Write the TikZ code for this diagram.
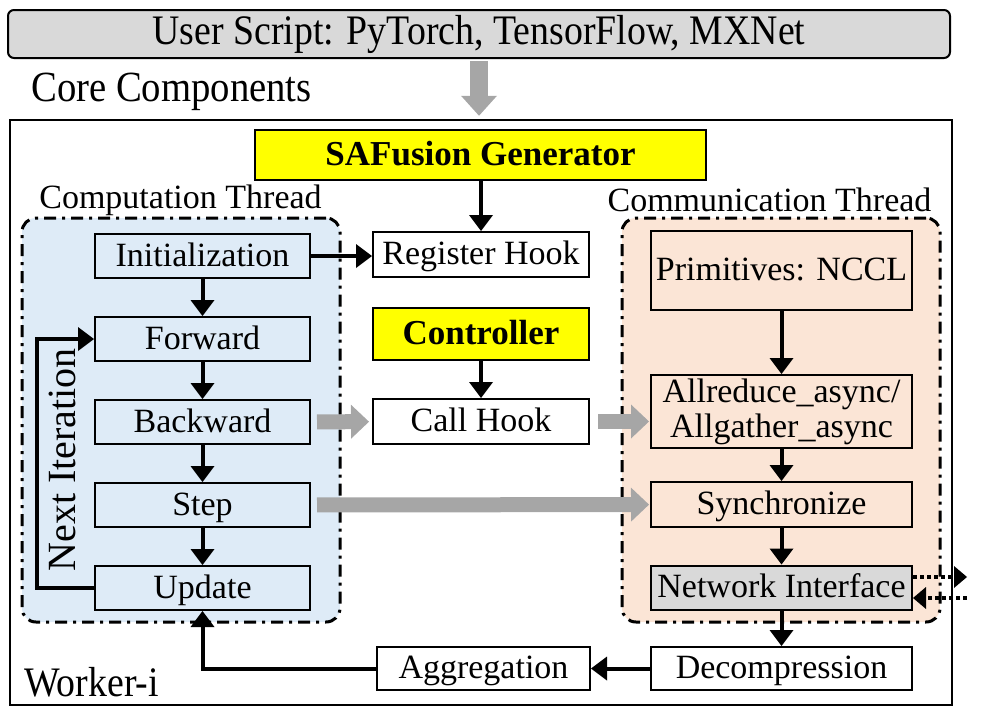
\documentclass[tikz,border=0pt]{standalone}
\usepackage{fontspec}
\setmainfont{Liberation Serif}
\newfontfamily\condfont[FakeStretch=0.9]{Liberation Serif}
\usepackage{tikz}
\usetikzlibrary{positioning,arrows.meta}
\definecolor{compblue}{HTML}{DEEBF7}
\definecolor{commorange}{HTML}{FBE5D6}
\definecolor{boxgray}{HTML}{D9D9D9}
\definecolor{arrowgray}{HTML}{A6A6A6}
\definecolor{keyyellow}{HTML}{FFFF00}
\tikzstyle{flow box}=[
        draw = black,
        line width = 2pt,
        minimum width = 215pt,
        minimum height = 44pt,
        inner sep = 0pt,
        text height = 26pt,
        text depth = 6pt,
        font = \fontsize{34}{35}\selectfont
    ]
\tikzstyle{comm box}=[
    flow box,
    minimum width = 261pt
]
\tikzstyle{key box}=[
    flow box,
    fill = keyyellow,
    font = \fontsize{35}{36}\selectfont\bfseries
]
\tikzstyle{thread}=[
    draw = black,
    line width = 3pt,
    dash pattern = on 12pt off 6pt on 3pt off 6pt,
    rounded corners = 14pt,
    minimum width = 318pt,
    minimum height = 404pt
]
\tikzstyle{flow}=[
    -{Triangle[width=24pt,length=16pt,line width=0pt]},
    line width = 4pt
]
\tikzstyle{gray flow}=[
    -{Triangle[width=34pt,length=18pt,line width=0pt]},
    line width = 15pt,
    draw = arrowgray
]
\tikzstyle{net flow}=[
    -{Triangle[width=22pt,length=13pt,line width=0pt]},
    line width = 4pt,
    dash pattern = on 4pt off 3pt
]

\begin{document}
\begin{tikzpicture}[x=1pt, y=-1pt, node distance={83pt}]
        \useasboundingbox (0,0) rectangle (985,723);

        \node[draw, line width=2pt, rounded corners=6pt, fill=boxgray, minimum width=942pt, minimum height=48pt, font=\condfont\fontsize{42}{44}\selectfont] (user) at (479,34) {User Script: PyTorch, TensorFlow, MXNet};
        \node[anchor=west, inner sep=0pt, font=\condfont\fontsize{43}{45}\selectfont] (core) at (31,92) {Core Components};
        \node[draw, line width=2.5pt, minimum width=942pt, minimum height=585pt] (worker) at (481,412.5) {};
        \node[anchor=west, inner sep=0pt, font=\condfont\fontsize{42}{44}\selectfont] (wlabel) at (24,682) {Worker-i};

        \node[thread, fill=compblue] (comp) at (181,420) {};
        \node[thread, fill=commorange] (comm) at (781,420) {};
        \node[font=\fontsize{34}{35}\selectfont] (comp label) at (180.5,200) {Computation Thread};
        \node[font=\fontsize{34}{35}\selectfont] (comm label) at (769.5,200) {Communication Thread};

        \node[key box, minimum width=451pt, minimum height=50pt] (gen) at (480.5,155) {SAFusion Generator};

        \node[flow box] (init) at (202.5,256) {Initialization};
        \node[flow box] (fwd) [below of = init] {Forward};
        \node[flow box] (bwd) [below of = fwd] {Backward};
        \node[flow box] (stp) [below of = bwd] {Step};
        \node[flow box] (upd) [below of = stp] {Update};
        \node[rotate=90, font=\fontsize{40}{42}\selectfont] (next) at (62,460) {Next Iteration};

        \node[flow box, minimum width=216pt, minimum height=45pt] (reg) at (481,254.5) {Register Hook};
        \node[key box, minimum width=216pt, minimum height=52pt] (ctrl) at (481,334) {Controller};
        \node[flow box, minimum width=216pt, minimum height=45pt] (call) at (481,421.5) {Call Hook};

        \node[comm box, minimum height=79pt] (prim) at (781.5,270.5) {Primitives: NCCL};
        \node[comm box, minimum height=73pt, align=center, text height={}, text depth={}] (allr) at (781.5,411.5) {Allreduce\_async/\\Allgather\_async};
        \node[comm box, minimum height=45pt] (sync) at (781.5,504.5) {Synchronize};
        \node[comm box, fill=boxgray] (ni) [below of = sync] {Network Interface};
        \node[comm box, minimum height=43pt] (decomp) at (781.5,668.5) {Decompression};
        \node[flow box, minimum width=213pt, minimum height=43pt] (aggr) at (483.5,668.5) {Aggregation};

        \coordinate (net out) at (967,577);
        \coordinate (net in) at (967,598);

        \foreach \a/\b in {init/fwd, fwd/bwd, bwd/stp, stp/upd, prim/allr, allr/sync, sync/ni, ni/decomp, decomp/aggr, ctrl/call}
            \draw[flow] (\a) -- (\b);
        \draw[flow] (init) -- (init -| reg.west);
        \draw[flow] (gen.south -| reg) -- (reg);
        \draw[flow] (upd.west) -- ++(-57,0) |- (fwd.west);
        \draw[flow] (aggr.west) -| (upd.south);

        \draw[gray flow, line width=18pt, -{Triangle[width=36pt,length=20pt,line width=0pt]}, shorten <=2pt, shorten >=3pt] (user) -- (user |- worker.north);
        \draw[gray flow, shorten <=6pt, shorten >=3pt] (bwd) -- (call);
        \draw[gray flow, shorten <=8pt, shorten >=1pt] (call) -- (call -| allr.west);
        \draw[gray flow, shorten <=6pt, shorten >=1pt] (stp) -- (sync);

        \draw[net flow] (ni.east |- net out) -- (net out);
        \draw[net flow] (net in) -- (ni.east |- net in);

    \end{tikzpicture}
\end{document}
